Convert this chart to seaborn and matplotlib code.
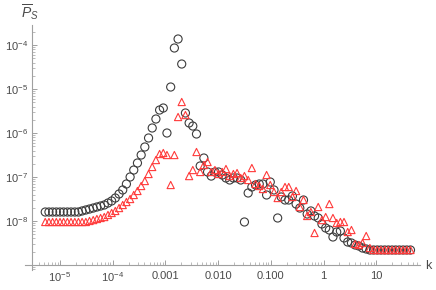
import pandas as pd
import seaborn as sns
import matplotlib.pyplot as plt
from matplotlib.ticker import FixedLocator, LogLocator, NullFormatter

# wave numbers (shared by both series)
k = [5.25e-6, 6.17e-6, 7.24e-6, 8.51e-6, 1.00e-5, 1.17e-5, 1.38e-5, 1.62e-5, 1.91e-5, 2.24e-5,
     2.63e-5, 3.09e-5, 3.63e-5, 4.27e-5, 5.01e-5, 5.89e-5, 6.92e-5, 8.13e-5, 9.55e-5, 1.12e-4,
     1.32e-4, 1.55e-4, 1.82e-4, 2.14e-4, 2.51e-4, 2.95e-4, 3.47e-4, 4.07e-4, 4.79e-4, 5.62e-4,
     6.61e-4, 7.76e-4, 9.12e-4, 1.07e-3, 1.26e-3, 1.48e-3, 1.74e-3, 2.04e-3, 2.40e-3, 2.82e-3,
     3.31e-3, 3.89e-3, 4.57e-3, 5.37e-3, 6.31e-3, 7.41e-3, 8.71e-3, 1.02e-2, 1.20e-2, 1.41e-2,
     1.66e-2, 1.95e-2, 2.29e-2, 2.69e-2, 3.16e-2, 3.72e-2, 4.37e-2, 5.13e-2, 6.03e-2, 7.08e-2,
     8.32e-2, 9.77e-2, 0.115, 0.135, 0.158, 0.186, 0.219, 0.257, 0.302, 0.355,
     0.417, 0.490, 0.575, 0.676, 0.794, 0.933, 1.10, 1.29, 1.51, 1.78,
     2.09, 2.45, 2.88, 3.39, 3.98, 4.68, 5.50, 6.46, 7.59, 8.91,
     10.5, 12.3, 14.5, 17.0, 20.0, 23.4, 27.5, 32.4, 38.0, 44.7]

# black circles
ps_black = [1.60e-8, 1.60e-8, 1.60e-8, 1.60e-8, 1.60e-8, 1.60e-8, 1.60e-8, 1.60e-8, 1.60e-8, 1.60e-8,
            1.69e-8, 1.78e-8, 1.87e-8, 1.97e-8, 2.08e-8, 2.19e-8, 2.31e-8, 2.56e-8, 2.85e-8, 3.33e-8,
            4.11e-8, 5.07e-8, 6.93e-8, 1.00e-7, 1.44e-7, 2.08e-7, 3.16e-7, 4.81e-7, 7.70e-7, 1.30e-6,
            2.08e-6, 3.33e-6, 3.70e-6, 1.00e-6, 1.11e-5, 8.55e-5, 1.37e-4, 3.70e-5, 2.85e-6, 1.69e-6,
            1.44e-6, 9.49e-7, 1.78e-7, 2.70e-7, 1.30e-7, 1.05e-7, 1.30e-7, 1.30e-7, 1.11e-7, 9.49e-8,
            8.55e-8, 9.49e-8, 9.49e-8, 8.55e-8, 9.49e-9, 4.33e-8, 5.93e-8, 6.58e-8, 6.93e-8, 6.93e-8,
            3.90e-8, 7.70e-8, 5.07e-8, 1.17e-8, 3.51e-8, 3.00e-8, 3.00e-8, 3.70e-8, 2.43e-8, 1.97e-8,
            3.00e-8, 1.44e-8, 1.69e-8, 1.30e-8, 1.17e-8, 8.55e-9, 6.93e-9, 6.24e-9, 4.33e-9, 5.62e-9,
            5.93e-9, 4.11e-9, 3.33e-9, 3.16e-9, 2.85e-9, 2.70e-9, 2.43e-9, 2.31e-9, 2.19e-9, 2.19e-9,
            2.19e-9, 2.19e-9, 2.19e-9, 2.19e-9, 2.19e-9, 2.19e-9, 2.19e-9, 2.19e-9, 2.19e-9, 2.19e-9]

# red triangles
ps_red = [9.49e-9, 9.49e-9, 9.49e-9, 9.49e-9, 9.49e-9, 9.49e-9, 9.49e-9, 9.49e-9, 9.49e-9, 9.49e-9,
          9.49e-9, 9.49e-9, 1.00e-8, 1.05e-8, 1.11e-8, 1.17e-8, 1.23e-8, 1.37e-8, 1.52e-8, 1.69e-8,
          1.97e-8, 2.31e-8, 2.70e-8, 3.16e-8, 3.90e-8, 4.81e-8, 6.24e-8, 8.11e-8, 1.17e-7, 1.69e-7,
          2.43e-7, 3.33e-7, 3.51e-7, 3.16e-7, 6.58e-8, 3.16e-7, 2.31e-6, 5.07e-6, 2.56e-6, 1.05e-7,
          1.44e-7, 3.70e-7, 1.30e-7, 1.87e-7, 2.19e-7, 1.30e-7, 1.44e-7, 1.17e-7, 1.30e-7, 1.52e-7,
          1.05e-7, 1.17e-7, 1.23e-7, 9.49e-8, 1.05e-7, 8.55e-8, 1.60e-7, 6.93e-8, 6.24e-8, 5.34e-8,
          1.11e-7, 6.58e-8, 4.56e-8, 3.33e-8, 4.56e-8, 5.93e-8, 5.93e-8, 3.51e-8, 4.81e-8, 2.08e-8,
          3.00e-8, 1.30e-8, 1.60e-8, 5.34e-9, 2.08e-8, 1.05e-8, 1.23e-8, 2.43e-8, 1.17e-8, 9.00e-9,
          9.49e-9, 9.49e-9, 5.62e-9, 6.24e-9, 3.00e-9, 2.85e-9, 3.16e-9, 4.56e-9, 2.43e-9, 2.19e-9,
          2.19e-9, 2.19e-9, 2.19e-9, 2.19e-9, 2.19e-9, 2.19e-9, 2.19e-9, 2.19e-9, 2.19e-9, 2.19e-9]

x_ticks = [1e-5, 1e-4, 1e-3, 1e-2, 1e-1, 1, 10]
x_labels = ['$10^{-5}$', '$10^{-4}$', '0.001', '0.010', '0.100', '1', '10']
y_ticks = [1e-8, 1e-7, 1e-6, 1e-5, 1e-4]
y_labels = ['$10^{-8}$', '$10^{-7}$', '$10^{-6}$', '$10^{-5}$', '$10^{-4}$']

sns.set_style('ticks')
plt.rcParams['font.family'] = ['Liberation Sans', 'DejaVu Sans']
plt.rcParams['mathtext.fontset'] = 'custom'
plt.rcParams['mathtext.rm'] = 'Liberation Sans'
plt.rcParams['mathtext.it'] = 'Liberation Sans:italic'

axis_col = '#a0a0a0'
text_col = '#4a4a4a'

df = pd.DataFrame({'k': k, 'black': ps_black, 'red': ps_red})

fig = plt.figure(figsize=(4.36, 2.90), dpi=100)
ax = fig.add_axes([25 / 436, 1 - 270 / 290, 395 / 436, 245 / 290])

sns.scatterplot(data=df, x='k', y='black', marker='o', s=34, facecolor='none',
                edgecolor='#3c3c3c', linewidth=0.8, ax=ax, zorder=3)
sns.scatterplot(data=df, x='k', y='red', marker='^', s=27, facecolor='none',
                edgecolor='#ff3a3a', linewidth=0.8, ax=ax, zorder=4)

ax.set_xscale('log')
ax.set_yscale('log')
ax.set_xlim(10 ** -5.664, 10 ** 1.831)
ax.set_ylim(10 ** -9.114, 10 ** -3.545)

# Mathematica-like axes
for s in ['top', 'right']:
    ax.spines[s].set_visible(False)
ax.spines['left'].set_position(('axes', 7 / 395))
ax.spines['bottom'].set_position(('axes', 5 / 245))
for s in ['left', 'bottom']:
    ax.spines[s].set_color(axis_col)
    ax.spines[s].set_linewidth(0.8)

ax.xaxis.set_major_locator(FixedLocator(x_ticks))
ax.set_xticklabels(x_labels)
ax.xaxis.set_minor_locator(LogLocator(base=10, subs=range(2, 10), numticks=20))
ax.xaxis.set_minor_formatter(NullFormatter())
ax.yaxis.set_major_locator(FixedLocator(y_ticks))
ax.set_yticklabels(y_labels)
ax.yaxis.set_minor_locator(LogLocator(base=10, subs=range(2, 10), numticks=20))
ax.yaxis.set_minor_formatter(NullFormatter())

ax.tick_params(which='both', bottom=True, left=True, top=False, right=False)
ax.tick_params(which='major', direction='in', length=3.5, width=0.7, color=axis_col,
               labelcolor=text_col, labelsize=8, pad=4)
ax.tick_params(which='minor', direction='in', length=2, width=0.5, color=axis_col)
ax.tick_params(axis='y', which='major', pad=3)

ax.set_xlabel('')
ax.set_ylabel('')
fig.text(428 / 436, 1 - 266 / 290, 'k', ha='center', va='center', fontsize=9, color=text_col)
fig.text(30 / 436, 1 - 12 / 290, r'$\overline{P}_S$', ha='center', va='center', fontsize=10,
         color=text_col)

fig.savefig('out.png', dpi=100)
